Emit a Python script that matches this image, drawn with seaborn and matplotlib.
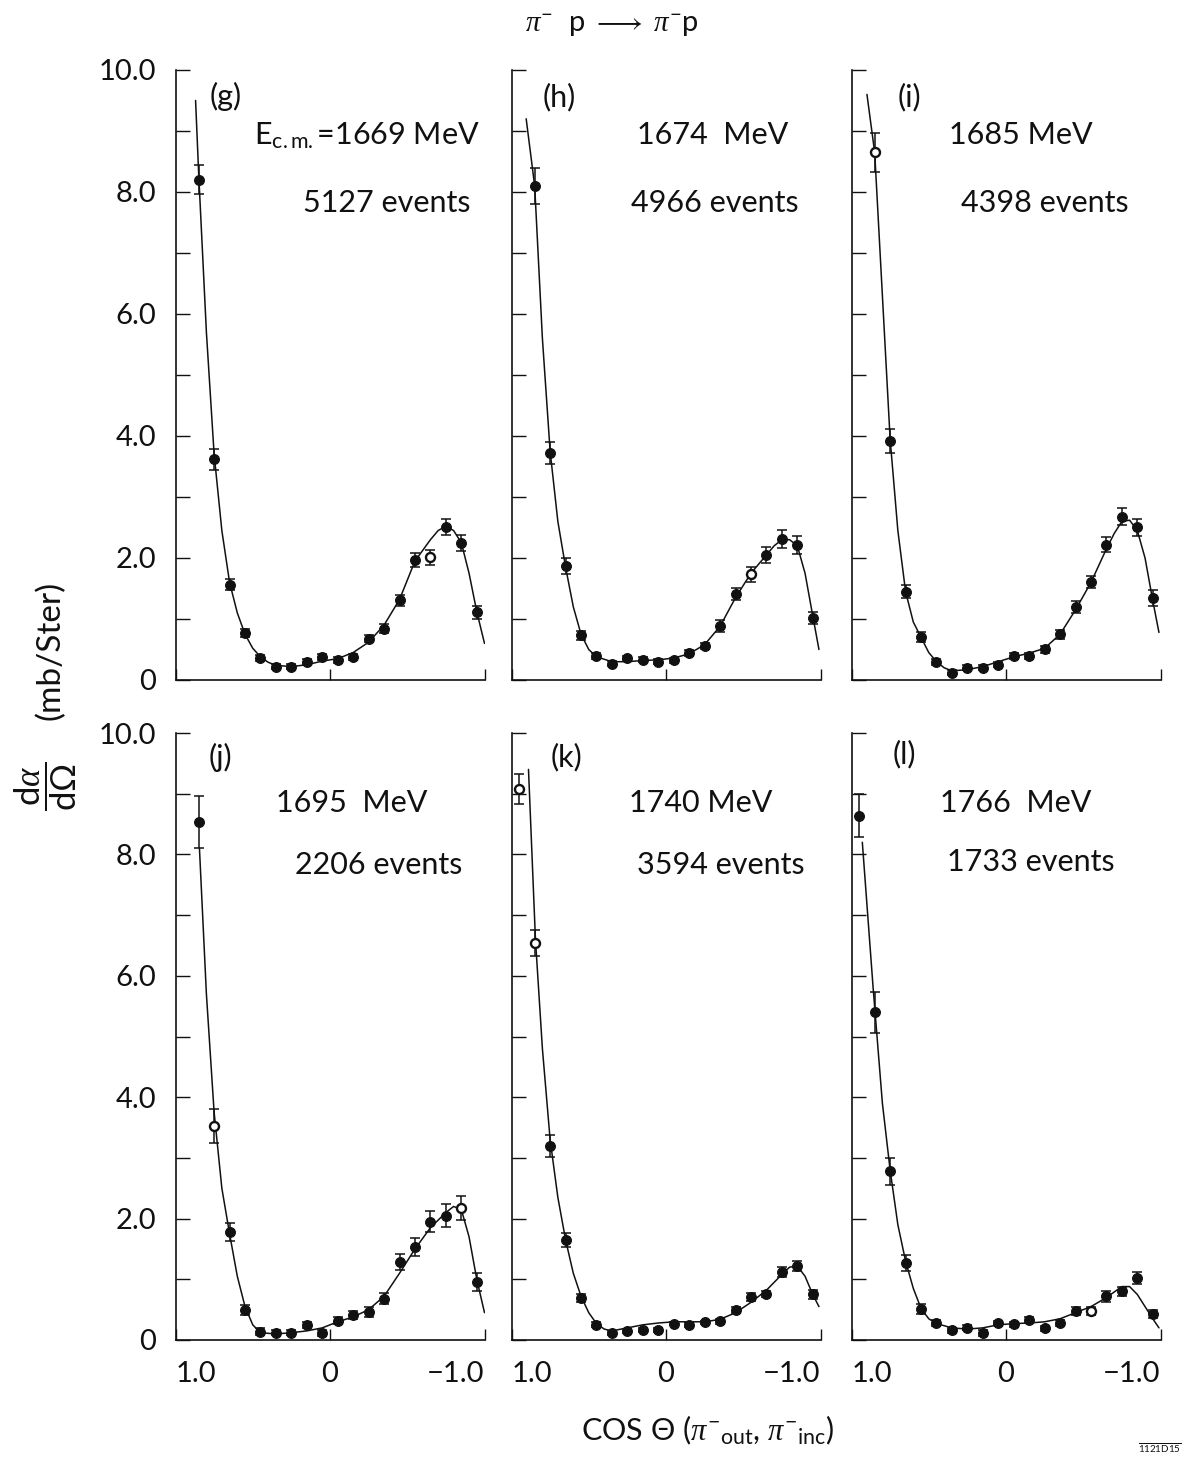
import matplotlib
matplotlib.use("Agg")
import matplotlib.pyplot as plt
import matplotlib.transforms as mtransforms
import pandas as pd
import seaborn as sns

sns.set_theme(style="ticks")
plt.rcParams["font.family"] = ["Lato", "DejaVu Sans"]
plt.rcParams["font.weight"] = "normal"
plt.rcParams["mathtext.fontset"] = "custom"
plt.rcParams["mathtext.rm"] = "Lato"
plt.rcParams["mathtext.it"] = "Liberation Serif:italic"
plt.rcParams["mathtext.bf"] = "Lato:bold"

# ---- measured cross sections, cos(theta) bins -------------------------
cos19 = [0.85, 0.75, 0.65, 0.55, 0.45, 0.35, 0.25, 0.15, 0.05, -0.05,
         -0.15, -0.25, -0.35, -0.45, -0.55, -0.65, -0.75, -0.85, -0.95]
cos20 = [0.95, 0.85, 0.75, 0.65, 0.55, 0.45, 0.35, 0.25, 0.15, 0.05, -0.05,
         -0.15, -0.25, -0.35, -0.45, -0.55, -0.65, -0.75, -0.85, -0.95]

g_val = [8.2, 3.62, 1.56, 0.77, 0.36, 0.22, 0.22, 0.30, 0.38, 0.33, 0.38,
         0.68, 0.84, 1.31, 1.97, 2.01, 2.51, 2.24, 1.11]
g_err = [0.24, 0.17, 0.09, 0.07, 0.05, 0.04, 0.04, 0.04, 0.05, 0.05, 0.05,
         0.06, 0.07, 0.09, 0.12, 0.12, 0.13, 0.13, 0.11]
h_val = [8.1, 3.72, 1.87, 0.73, 0.39, 0.27, 0.36, 0.33, 0.30, 0.32, 0.44,
         0.56, 0.88, 1.41, 1.73, 2.05, 2.31, 2.21, 1.02]
h_err = [0.30, 0.18, 0.13, 0.07, 0.05, 0.04, 0.04, 0.04, 0.04, 0.04, 0.05,
         0.05, 0.10, 0.10, 0.12, 0.13, 0.15, 0.15, 0.10]
i_val = [8.65, 3.92, 1.45, 0.71, 0.29, 0.12, 0.20, 0.20, 0.25, 0.39, 0.39,
         0.50, 0.75, 1.2, 1.6, 2.22, 2.68, 2.5, 1.35]
i_err = [0.32, 0.20, 0.10, 0.08, 0.05, 0.04, 0.04, 0.04, 0.04, 0.05, 0.05,
         0.05, 0.07, 0.10, 0.10, 0.12, 0.14, 0.14, 0.13]
j_val = [8.54, 3.53, 1.78, 0.49, 0.14, 0.12, 0.12, 0.24, 0.12, 0.32, 0.41,
         0.46, 0.68, 1.29, 1.53, 1.95, 2.05, 2.17, 0.95]
j_err = [0.43, 0.28, 0.15, 0.08, 0.05, 0.04, 0.04, 0.05, 0.05, 0.06, 0.07,
         0.08, 0.09, 0.13, 0.15, 0.17, 0.19, 0.20, 0.15]
k_val = [9.08, 6.54, 3.2, 1.65, 0.69, 0.25, 0.12, 0.15, 0.16, 0.17, 0.27,
         0.25, 0.29, 0.31, 0.50, 0.71, 0.76, 1.12, 1.22, 0.75]
k_err = [0.25, 0.22, 0.18, 0.11, 0.06, 0.04, 0.03, 0.03, 0.03, 0.03, 0.03,
         0.03, 0.03, 0.04, 0.05, 0.06, 0.05, 0.09, 0.08, 0.07]
l_val = [8.64, 5.4, 2.78, 1.27, 0.51, 0.28, 0.16, 0.20, 0.12, 0.28, 0.26,
         0.33, 0.19, 0.28, 0.48, 0.48, 0.72, 0.80, 1.02, 0.43]
l_err = [0.35, 0.34, 0.22, 0.13, 0.08, 0.05, 0.04, 0.04, 0.05, 0.04, 0.04,
         0.05, 0.04, 0.05, 0.06, 0.06, 0.09, 0.07, 0.10, 0.07]

# points plotted as open circles
g_open = [15]
h_open = [14]
i_open = [0]
j_open = [1, 17]
k_open = [0, 1]
l_open = [15]

# ---- fitted curves (Legendre fits as drawn) ---------------------------
g_fx = [0.87, 0.85, 0.80, 0.75, 0.70, 0.65, 0.60, 0.55, 0.50, 0.45, 0.40, 0.35,
        0.25, 0.15, 0.05, -0.05, -0.15, -0.25, -0.35, -0.45, -0.55, -0.65,
        -0.70, -0.75, -0.80, -0.85, -0.90, -0.95, -1.0]
g_fy = [9.5, 8.3, 5.7, 3.7, 2.45, 1.6, 1.1, 0.75, 0.52, 0.38, 0.29, 0.24,
        0.22, 0.25, 0.31, 0.35, 0.45, 0.62, 0.9, 1.32, 1.95, 2.3,
        2.45, 2.52, 2.45, 2.25, 1.75, 1.12, 0.6]
h_fx = [0.905, 0.85, 0.80, 0.75, 0.70, 0.65, 0.60, 0.55, 0.50, 0.45, 0.35,
        0.25, 0.15, 0.05, -0.05, -0.15, -0.25, -0.35, -0.45, -0.55, -0.65,
        -0.70, -0.75, -0.80, -0.85, -0.90, -0.95, -0.99]
h_fy = [9.2, 8.1, 5.6, 3.75, 2.6, 1.85, 1.2, 0.75, 0.5, 0.38, 0.3,
        0.3, 0.32, 0.33, 0.36, 0.43, 0.58, 0.88, 1.35, 1.75, 2.05,
        2.2, 2.3, 2.3, 2.2, 1.75, 1.05, 0.5]
i_fx = [0.90, 0.85, 0.80, 0.75, 0.70, 0.65, 0.60, 0.55, 0.50, 0.45, 0.40,
        0.35, 0.25, 0.15, 0.05, -0.05, -0.15, -0.25, -0.35, -0.45, -0.55,
        -0.65, -0.70, -0.75, -0.80, -0.85, -0.90, -0.95, -0.99]
i_fy = [9.6, 8.65, 6.3, 3.95, 2.45, 1.45, 0.95, 0.7, 0.45, 0.3, 0.2,
        0.15, 0.17, 0.22, 0.3, 0.38, 0.44, 0.52, 0.75, 1.15, 1.6,
        2.15, 2.4, 2.6, 2.62, 2.45, 2.0, 1.3, 0.78]
j_fx = [0.845, 0.80, 0.75, 0.70, 0.65, 0.60, 0.55, 0.50, 0.45, 0.35, 0.25,
        0.15, 0.05, -0.05, -0.15, -0.25, -0.35, -0.45, -0.55, -0.65, -0.75,
        -0.80, -0.85, -0.90, -0.95, -1.0]
j_fy = [8.1, 5.7, 3.75, 2.5, 1.75, 1.05, 0.55, 0.25, 0.12, 0.1, 0.12,
        0.15, 0.2, 0.3, 0.38, 0.5, 0.72, 1.1, 1.5, 1.85, 2.1,
        2.2, 2.15, 1.7, 1.0, 0.45]
k_fx = [0.89, 0.845, 0.80, 0.75, 0.70, 0.65, 0.60, 0.55, 0.50, 0.45, 0.40,
        0.35, 0.25, 0.15, 0.05, -0.05, -0.15, -0.25, -0.35, -0.45, -0.55,
        -0.65, -0.75, -0.80, -0.85, -0.90, -0.95, -0.99]
k_fy = [9.4, 6.6, 4.8, 3.3, 2.35, 1.65, 1.1, 0.72, 0.45, 0.27, 0.18,
        0.15, 0.2, 0.25, 0.28, 0.3, 0.3, 0.3, 0.34, 0.45, 0.62,
        0.82, 1.08, 1.2, 1.22, 1.05, 0.75, 0.55]
l_fx = [0.93, 0.86, 0.80, 0.75, 0.70, 0.65, 0.60, 0.55, 0.50, 0.45, 0.35,
        0.25, 0.15, 0.05, -0.05, -0.15, -0.25, -0.35, -0.45, -0.55, -0.65,
        -0.75, -0.80, -0.85, -0.90, -0.95, -0.99]
l_fy = [8.2, 5.8, 3.9, 2.8, 1.9, 1.3, 0.85, 0.52, 0.35, 0.27, 0.2,
        0.18, 0.2, 0.25, 0.27, 0.28, 0.3, 0.35, 0.45, 0.55, 0.7,
        0.88, 0.88, 0.75, 0.55, 0.35, 0.2]

# ---- panel labels --------------------------------------------------------
panel_tags = ["(g)", "(h)", "(i)", "(j)", "(k)", "(l)"]
energy_text = [r"E$_{\rm c.m.}$=1669 MeV", "1674  MeV", "1685 MeV",
               "1695  MeV", "1740 MeV", "1766  MeV"]
event_text = ["5127 events", "4966 events", "4398 events",
              "2206 events", "3594 events", "1733 events"]

y_ticks = [0, 1, 2, 3, 4, 5, 6, 7, 8, 9, 10]
y_labels = ["0", "", "2.0", "", "4.0", "", "6.0", "", "8.0", "", "10.0"]
x_ticks = [1.0, 0.0, -1.0]
x_labels = ["1.0", "0", "\u22121.0"]

panels = [
    (cos19, g_val, g_err, g_open, g_fx, g_fy),
    (cos19, h_val, h_err, h_open, h_fx, h_fy),
    (cos19, i_val, i_err, i_open, i_fx, i_fy),
    (cos19, j_val, j_err, j_open, j_fx, j_fy),
    (cos20, k_val, k_err, k_open, k_fx, k_fy),
    (cos20, l_val, l_err, l_open, l_fx, l_fy),
]

# text placement (axes-fraction x, data y)
tag_pos = [(0.161, 9.56), (0.155, 9.56), (0.187, 9.56),
           (0.146, 9.6), (0.178, 9.6), (0.172, 9.65)]
energy_pos = [(0.621, 8.93), (0.652, 8.93), (0.548, 8.93),
              (0.571, 8.85), (0.612, 8.85), (0.531, 8.85)]
event_pos = [(0.684, 7.82), (0.658, 7.82), (0.626, 7.82),
             (0.659, 7.83), (0.676, 7.83), (0.579, 7.88)]

W, H = 1185, 1458
fig = plt.figure(figsize=(W / 100, H / 100), dpi=100)
fig.patch.set_facecolor("white")

col_left = [175.5, 511.5, 851.5]
col_w = 309
row_top = [70, 733]
row_h = [610, 607]

ink = "#111111"
for idx, (xs, vals, errs, opens, fx, fy) in enumerate(panels):
    r, c = divmod(idx, 3)
    ax = fig.add_axes([col_left[c] / W, 1 - (row_top[r] + row_h[r]) / H,
                       col_w / W, row_h[r] / H])
    ax.set_facecolor("white")

    curve = pd.DataFrame({"cos": fx, "sigma": fy})
    sns.lineplot(data=curve, x="cos", y="sigma", ax=ax, color=ink,
                 linewidth=1.1, sort=False, estimator=None)

    ax.errorbar(xs, vals, yerr=errs, fmt="none", ecolor=ink,
                elinewidth=1.1, capsize=3.5, capthick=1.1, zorder=3)

    pts = pd.DataFrame({"cos": xs, "sigma": vals,
                        "hollow": [k in opens for k in range(len(xs))]})
    sns.scatterplot(data=pts[~pts["hollow"]], x="cos", y="sigma", ax=ax,
                    s=50, color=ink, edgecolor=ink, linewidth=0.8, zorder=4)
    if pts["hollow"].any():
        sns.scatterplot(data=pts[pts["hollow"]], x="cos", y="sigma", ax=ax,
                        s=42, color="white", edgecolor=ink, linewidth=1.7,
                        zorder=4)

    ax.set_xlim(1.0, -1.0)
    ax.set_ylim(0, 10)
    sns.despine(ax=ax)
    for sp in ("left", "bottom"):
        ax.spines[sp].set_linewidth(1.2)
        ax.spines[sp].set_color(ink)

    ax.set_yticks(y_ticks)
    ax.set_xticks(x_ticks)
    ax.tick_params(axis="y", direction="in", length=10, width=1.0,
                   color=ink, pad=14, labelsize=21, labelcolor=ink)
    ax.tick_params(axis="x", direction="in", length=8, width=1.0,
                   color=ink, pad=15, labelsize=21, labelcolor=ink)
    if c == 0:
        ax.set_yticklabels(y_labels)
    else:
        ax.set_yticklabels([])
    if r == 1:
        ax.set_xticklabels(x_labels)
        tl = ax.get_xticklabels()
        tl[0].set_ha("left")
        tl[2].set_ha("right")
    else:
        ax.set_xticklabels([])
    ax.set_xlabel("")
    ax.set_ylabel("")

    bt = mtransforms.blended_transform_factory(ax.transAxes, ax.transData)
    ax.text(*tag_pos[idx], panel_tags[idx], transform=bt, ha="center",
            va="center", fontsize=22, color=ink)
    ax.text(*energy_pos[idx], energy_text[idx], transform=bt, ha="center",
            va="center", fontsize=22, color=ink)
    ax.text(*event_pos[idx], event_text[idx], transform=bt, ha="center",
            va="center", fontsize=22, color=ink)

fig.text(612 / W, 1 - 26 / H, r"$\pi^{-}$  p $\longrightarrow$ $\pi^{-}$p",
         ha="center", va="center", fontsize=21, color=ink)
# y-axis label: fraction and units, both rotated
fig.text(46 / W, 1 - 786 / H,
         r"$\dfrac{\mathrm{d}\alpha}{\mathrm{d}\Omega}$",
         rotation=90, ha="center", va="center", fontsize=25, color=ink)
fig.text(50 / W, 1 - 650 / H, "(mb/Ster)",
         rotation=90, ha="center", va="center", fontsize=24, color=ink)
fig.text(708 / W, 1 - 1430 / H,
         r"COS $\Theta$ ($\pi^{-}{}_{\mathrm{out}}$, $\pi^{-}{}_{\mathrm{inc}}$)",
         ha="center", va="center", fontsize=22, color=ink)
fig.text(1160 / W, 1 - 1448 / H, r"$\overline{\mathrm{1121D15}}$",
         ha="center", va="center", fontsize=7, color=ink)

fig.savefig("out.png", dpi=100, facecolor="white")
